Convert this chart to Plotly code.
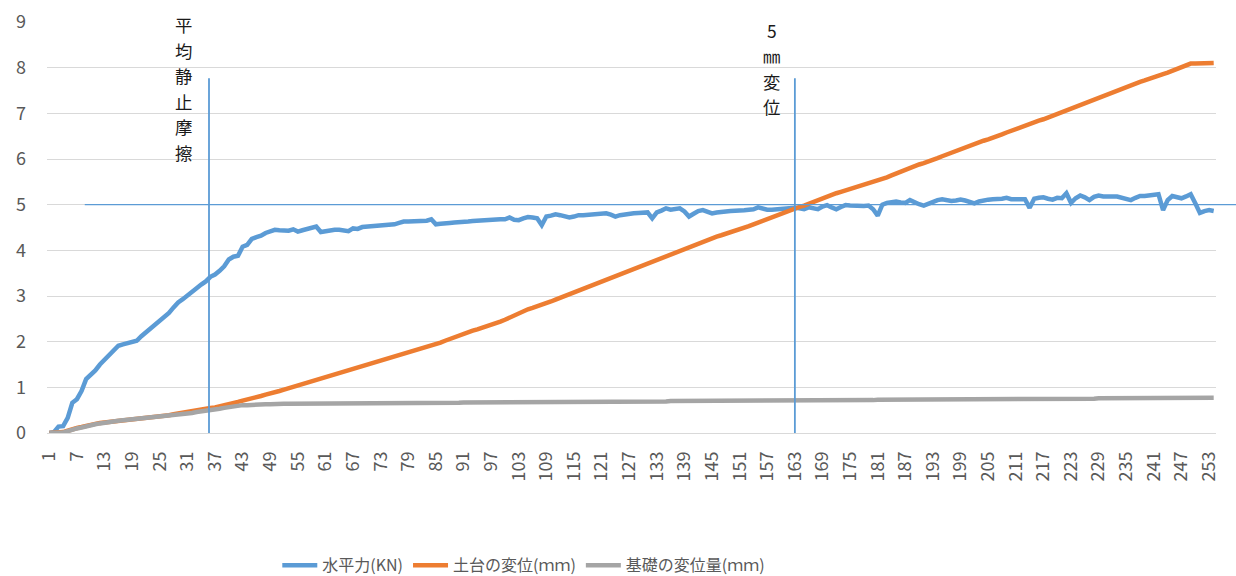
import plotly.graph_objects as go

# Test step numbers (category axis)
steps = list(range(1, 255))

# 水平力 (kN)
horizontal_force = [
    0.00, 0.02, 0.14, 0.15, 0.33, 0.66, 0.74, 0.92, 1.18, 1.26,
    1.37, 1.50, 1.61, 1.71, 1.81, 1.91, 1.94, 1.96, 1.99, 2.02,
    2.12, 2.20, 2.28, 2.36, 2.45, 2.54, 2.63, 2.75, 2.86, 2.93,
    3.00, 3.09, 3.17, 3.25, 3.32, 3.42, 3.47, 3.55, 3.65, 3.80,
    3.86, 3.88, 4.08, 4.12, 4.25, 4.29, 4.32, 4.38, 4.42, 4.45,
    4.44, 4.43, 4.43, 4.46, 4.41, 4.44, 4.46, 4.48, 4.52, 4.40,
    4.42, 4.45, 4.45, 4.45, 4.43, 4.42, 4.48, 4.47, 4.51, 4.52,
    4.52, 4.52, 4.53, 4.55, 4.56, 4.57, 4.60, 4.63, 4.63, 4.63,
    4.63, 4.63, 4.65, 4.68, 4.57, 4.58, 4.60, 4.60, 4.61, 4.61,
    4.61, 4.63, 4.64, 4.65, 4.65, 4.65, 4.67, 4.69, 4.68, 4.68,
    4.72, 4.67, 4.66, 4.70, 4.73, 4.72, 4.70, 4.55, 4.74, 4.76,
    4.79, 4.77, 4.75, 4.72, 4.74, 4.77, 4.77, 4.78, 4.79, 4.79,
    4.80, 4.81, 4.78, 4.74, 4.77, 4.79, 4.80, 4.81, 4.82, 4.82,
    4.83, 4.70, 4.83, 4.87, 4.92, 4.89, 4.90, 4.92, 4.85, 4.74,
    4.80, 4.86, 4.88, 4.84, 4.81, 4.83, 4.85, 4.85, 4.86, 4.86,
    4.87, 4.88, 4.89, 4.90, 4.94, 4.91, 4.89, 4.89, 4.90, 4.91,
    4.92, 4.92, 4.93, 4.92, 4.90, 4.94, 4.92, 4.90, 4.96, 4.99,
    4.94, 4.90, 4.95, 4.99, 4.98, 4.97, 4.96, 4.97, 4.98, 4.90,
    4.76, 5.00, 5.04, 5.05, 5.07, 5.05, 5.04, 5.10, 5.05, 5.01,
    4.98, 5.02, 5.07, 5.10, 5.12, 5.09, 5.08, 5.09, 5.11, 5.09,
    5.05, 5.03, 5.07, 5.10, 5.11, 5.12, 5.12, 5.13, 5.15, 5.12,
    5.12, 5.12, 5.12, 4.93, 5.13, 5.15, 5.16, 5.13, 5.11, 5.15,
    5.14, 5.25, 5.04, 5.14, 5.20, 5.16, 5.10, 5.17, 5.20, 5.18,
    5.17, 5.18, 5.18, 5.16, 5.12, 5.10, 5.15, 5.19, 5.19, 5.20,
    5.21, 5.23, 4.88, 5.10, 5.19, 5.16, 5.14, 5.18, 5.23, 5.03,
    4.82, 4.86, 4.88, 4.86,
]

# 土台の変位 (mm)
sill_displacement = [
    0.00, 0.00, 0.01, 0.02, 0.05, 0.09, 0.11, 0.13, 0.16, 0.18,
    0.20, 0.22, 0.23, 0.25, 0.26, 0.27, 0.28, 0.29, 0.29, 0.30,
    0.31, 0.32, 0.33, 0.34, 0.36, 0.37, 0.39, 0.41, 0.43, 0.44,
    0.46, 0.47, 0.49, 0.51, 0.53, 0.55, 0.56, 0.58, 0.60, 0.63,
    0.65, 0.68, 0.71, 0.73, 0.76, 0.78, 0.81, 0.84, 0.86, 0.89,
    0.92, 0.95, 0.98, 1.01, 1.03, 1.06, 1.09, 1.12, 1.16, 1.19,
    1.22, 1.25, 1.28, 1.31, 1.34, 1.37, 1.40, 1.43, 1.47, 1.50,
    1.53, 1.56, 1.59, 1.62, 1.65, 1.68, 1.71, 1.74, 1.77, 1.80,
    1.83, 1.86, 1.89, 1.92, 1.95, 1.98, 2.02, 2.06, 2.10, 2.14,
    2.18, 2.21, 2.24, 2.27, 2.30, 2.33, 2.36, 2.40, 2.44, 2.48,
    2.53, 2.58, 2.63, 2.67, 2.71, 2.74, 2.77, 2.80, 2.84, 2.88,
    2.92, 2.96, 3.00, 3.04, 3.08, 3.12, 3.16, 3.20, 3.24, 3.28,
    3.32, 3.36, 3.40, 3.44, 3.48, 3.52, 3.56, 3.60, 3.64, 3.68,
    3.72, 3.76, 3.80, 3.84, 3.88, 3.92, 3.96, 4.00, 4.04, 4.08,
    4.11, 4.15, 4.19, 4.23, 4.27, 4.30, 4.33, 4.36, 4.39, 4.42,
    4.45, 4.49, 4.53, 4.57, 4.61, 4.65, 4.69, 4.73, 4.77, 4.81,
    4.84, 4.88, 4.92, 4.95, 4.98, 5.02, 5.06, 5.10, 5.14, 5.19,
    5.22, 5.25, 5.28, 5.31, 5.34, 5.37, 5.40, 5.44, 5.48, 5.51,
    5.54, 5.57, 5.60, 5.64, 5.68, 5.73, 5.78, 5.82, 5.85, 5.88,
    5.91, 5.94, 5.98, 6.02, 6.06, 6.10, 6.14, 6.18, 6.22, 6.26,
    6.30, 6.33, 6.36, 6.40, 6.43, 6.46, 6.50, 6.54, 6.58, 6.62,
    6.66, 6.69, 6.73, 6.77, 6.80, 6.84, 6.87, 6.91, 6.95, 6.98,
    7.02, 7.06, 7.10, 7.15, 7.19, 7.23, 7.27, 7.31, 7.35, 7.39,
    7.43, 7.47, 7.51, 7.54, 7.58, 7.62, 7.65, 7.69, 7.72, 7.76,
    7.80, 7.83, 7.86, 7.89, 7.93, 7.97, 8.01, 8.06, 8.09, 8.09,
    8.09, 8.09, 8.09, 8.10,
]

# 基礎の変位量 (mm)
foundation_displacement = [
    0.00, 0.00, 0.00, 0.01, 0.04, 0.08, 0.10, 0.12, 0.15, 0.17,
    0.19, 0.21, 0.23, 0.25, 0.26, 0.27, 0.28, 0.29, 0.29, 0.30,
    0.31, 0.32, 0.33, 0.35, 0.36, 0.37, 0.39, 0.40, 0.41, 0.42,
    0.43, 0.44, 0.46, 0.47, 0.48, 0.50, 0.51, 0.53, 0.55, 0.57,
    0.59, 0.60, 0.61, 0.61, 0.62, 0.62, 0.63, 0.63, 0.63, 0.64,
    0.64, 0.64, 0.64, 0.64, 0.64, 0.64, 0.64, 0.64, 0.64, 0.64,
    0.64, 0.65, 0.65, 0.65, 0.65, 0.65, 0.65, 0.65, 0.65, 0.65,
    0.65, 0.65, 0.65, 0.65, 0.66, 0.66, 0.66, 0.66, 0.66, 0.66,
    0.66, 0.66, 0.66, 0.66, 0.66, 0.66, 0.66, 0.66, 0.66, 0.66,
    0.67, 0.67, 0.67, 0.67, 0.67, 0.67, 0.67, 0.67, 0.67, 0.67,
    0.67, 0.67, 0.68, 0.68, 0.68, 0.68, 0.68, 0.68, 0.68, 0.68,
    0.68, 0.68, 0.68, 0.68, 0.68, 0.68, 0.68, 0.68, 0.69, 0.69,
    0.69, 0.69, 0.69, 0.69, 0.69, 0.69, 0.69, 0.69, 0.69, 0.69,
    0.69, 0.69, 0.69, 0.69, 0.69, 0.70, 0.70, 0.70, 0.70, 0.70,
    0.70, 0.70, 0.70, 0.70, 0.70, 0.70, 0.70, 0.70, 0.70, 0.70,
    0.71, 0.71, 0.71, 0.71, 0.71, 0.71, 0.71, 0.71, 0.71, 0.71,
    0.71, 0.71, 0.71, 0.71, 0.71, 0.72, 0.72, 0.72, 0.72, 0.72,
    0.72, 0.72, 0.72, 0.72, 0.72, 0.72, 0.72, 0.72, 0.72, 0.72,
    0.73, 0.73, 0.73, 0.73, 0.73, 0.73, 0.73, 0.73, 0.73, 0.73,
    0.73, 0.73, 0.73, 0.73, 0.73, 0.74, 0.74, 0.74, 0.74, 0.74,
    0.74, 0.74, 0.74, 0.74, 0.74, 0.74, 0.74, 0.74, 0.74, 0.74,
    0.74, 0.74, 0.75, 0.75, 0.75, 0.75, 0.75, 0.75, 0.75, 0.75,
    0.75, 0.75, 0.75, 0.75, 0.75, 0.75, 0.75, 0.75, 0.76, 0.76,
    0.76, 0.76, 0.76, 0.76, 0.76, 0.76, 0.76, 0.76, 0.76, 0.76,
    0.76, 0.76, 0.76, 0.76, 0.77, 0.77, 0.77, 0.77, 0.77, 0.77,
    0.77, 0.77, 0.77, 0.77,
]

series_names = ["水平力(KN)", "土台の変位(ｍｍ)", "基礎の変位量(ｍｍ)"]
series_colors = ["#5B9BD5", "#ED7D31", "#A5A5A5"]

x_tick_values = list(range(1, 254, 6))
x_tick_labels = [str(v) for v in x_tick_values]
y_tick_values = list(range(0, 10))

# Reference markers
static_friction_step = 35.7
five_mm_step = 163.0
marker_top = 7.77
reference_force = 5.0
label_static = ["平", "均", "静", "止", "摩", "擦"]
label_5mm = ["5", "㎜", "変", "位"]

FONT = "Noto Sans CJK JP"
TEXT_GREY = "#595959"

fig = go.Figure()
for name, values, color in zip(series_names,
                               [horizontal_force, sill_displacement, foundation_displacement],
                               series_colors):
    fig.add_trace(go.Scatter(
        x=steps, y=values, name=name, mode="lines",
        line=dict(color=color, width=4.5, shape="linear"),
        hoverinfo="x+y+name",
    ))

# vertical marker lines
for xv in (static_friction_step, five_mm_step):
    fig.add_shape(type="line", xref="x", yref="y",
                  x0=xv, x1=xv, y0=0, y1=marker_top,
                  line=dict(color="#5B9BD5", width=1.8), layer="above")

# horizontal reference at 5, running past the right edge of the plot
fig.add_shape(type="line", xref="paper", yref="y",
              x0=0.0323, x1=1.02, y0=reference_force, y1=reference_force,
              line=dict(color="#5B9BD5", width=1.1), layer="above")

# vertical labels: one character per row, stacked downward from the top
ROW_STEP = 0.5567  # one text row in y-axis units
for i, ch in enumerate(label_static):
    fig.add_annotation(x=30.1, y=8.935 - i * ROW_STEP, xref="x", yref="y",
                       yanchor="middle", text=ch, showarrow=False,
                       font=dict(family=FONT, size=17.4, color="#1a1a1a"))
for i, ch in enumerate(label_5mm):
    fig.add_annotation(x=158.0, y=8.82 - i * ROW_STEP, xref="x", yref="y",
                       yanchor="middle", text=ch, showarrow=False,
                       font=dict(family=FONT, size=17.4, color="#1a1a1a"))

fig.update_layout(
    width=1236, height=576,
    margin=dict(l=47, r=20, t=22, b=143, autoexpand=False),
    paper_bgcolor="white", plot_bgcolor="white",
    font=dict(family=FONT, color=TEXT_GREY),
    showlegend=True,
    legend=dict(orientation="h", x=0.197, xanchor="left",
                y=-0.322, yanchor="middle",
                font=dict(family=FONT, size=16, color=TEXT_GREY),
                itemwidth=35, traceorder="normal"),
    xaxis=dict(range=[0.5, 254.5], tickmode="array",
               tickvals=x_tick_values, ticktext=x_tick_labels,
               tickangle=-90, showgrid=False, zeroline=False,
               showline=False, ticks="", automargin=False,
               tickfont=dict(family=FONT, size=18, color=TEXT_GREY),
               ticklabelstandoff=14),
    yaxis=dict(range=[0, 9], tickmode="array", tickvals=y_tick_values,
               showgrid=True, gridcolor="#D9D9D9", gridwidth=1.3,
               zeroline=True, zerolinecolor="#D9D9D9", zerolinewidth=1.3,
               showline=False, ticks="", automargin=False,
               tickfont=dict(family=FONT, size=18, color=TEXT_GREY),
               ticklabelstandoff=20),
)

fig.write_html("out.html")
